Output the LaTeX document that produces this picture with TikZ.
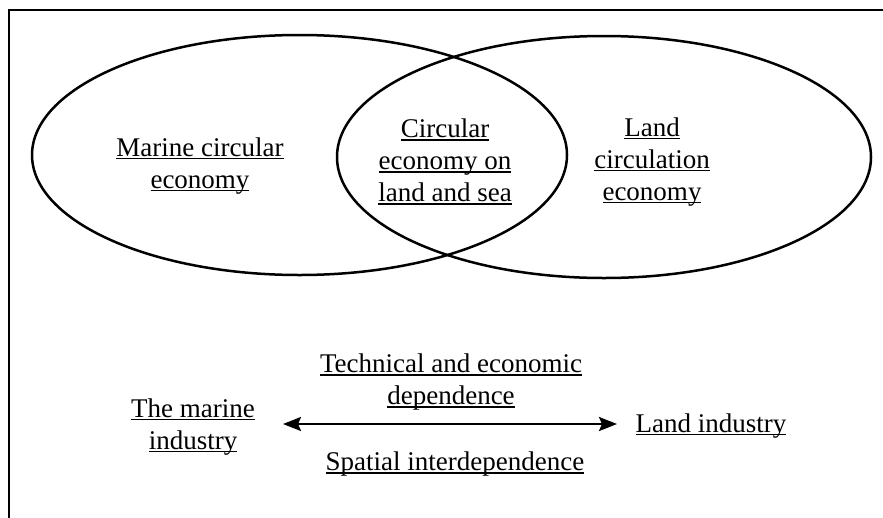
\documentclass[tikz,border=0pt]{standalone}
\usepackage{fontspec}
\setmainfont{Liberation Serif}
\usetikzlibrary{shapes.geometric,arrows.meta}
% underline at a fixed depth below the baseline
\newcommand{\uln}[1]{\setbox0\hbox{#1}\rlap{\rule[-3pt]{\wd0}{1.4pt}}\box0}
\begin{document}
\begin{tikzpicture}[x=1pt,y=-1pt,
  label/.style={align=center,inner sep=0pt,font=\fontsize{27}{32}\selectfont},
  set/.style={ellipse,draw,line width=2.5pt,inner sep=0pt},
  >={Stealth[length=18pt,width=14pt,inset=3pt]}]
  \clip (0,0) rectangle (883,517);
  % outer frame (open to the right and bottom)
  \draw[line width=2.6pt] (9,540) -- (9,10) -- (900,10);
  % the two overlapping sets
  \node[set,minimum width=535,minimum height=240] (marineset) at (299.5,155) {};
  \node[set,minimum width=534,minimum height=242] (landset) at (604,157) {};
  % set labels
  \node[label] (marinelab) at (200,166) {\uln{Marine circular}\\\uln{economy}};
  \node[label] (bothlab) at (445,162) {\uln{Circular}\\\uln{economy on}\\\uln{land and sea}};
  \node[label] (landlab) at (652,162) {\uln{Land}\\\uln{circulation}\\\uln{economy}};
  % industries and their links
  \node[label] (marineind) at (193,427) {\uln{The marine}\\\uln{industry}};
  \node[label] (landind) at (711,426) {\uln{Land industry}};
  \coordinate (arrowL) at (283,424);
  \coordinate (arrowR) at (617,424);
  \draw[line width=2.5pt,<->] (arrowL) -- (arrowR);
  \node[label] (techdep) at (451,382) {\uln{Technical and economic}\\\uln{dependence}};
  \node[label] (spatdep) at (455,464) {\uln{Spatial interdependence}};
\end{tikzpicture}
\end{document}
